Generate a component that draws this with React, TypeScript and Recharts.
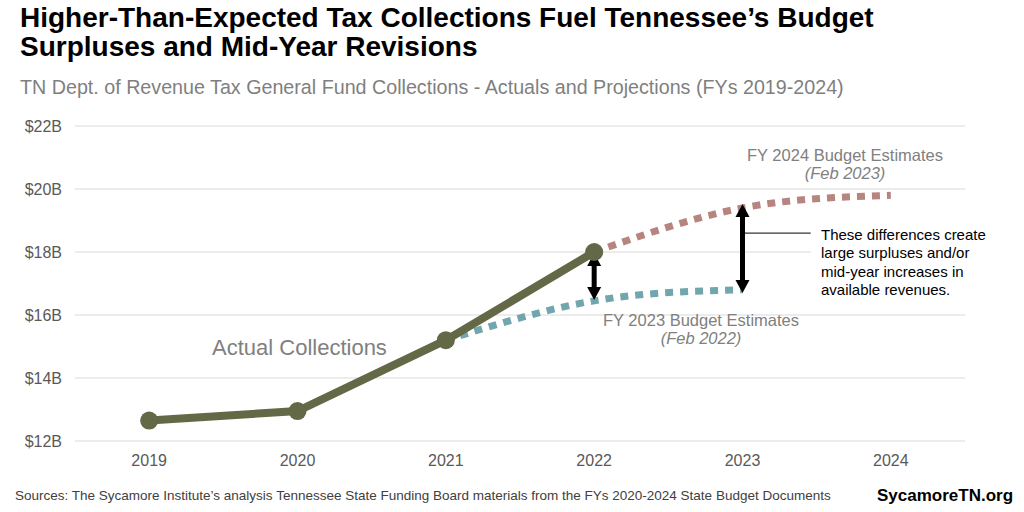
import { LineChart, Line, XAxis, YAxis, CartesianGrid, ReferenceLine } from 'recharts'

const years = [2019, 2020, 2021, 2022, 2023, 2024]
const actualCollections = [12.65, 12.95, 15.2, 18.0, null, null]
const fy2023Estimates = [null, null, 15.2, 16.45, 16.8, null]
const fy2024Estimates = [null, null, null, 18.0, 19.4, 19.8]
const yTicks = [12, 14, 16, 18, 20, 22]

const data = years.map((year, i) => ({
  year,
  actual: actualCollections[i],
  fy23: fy2023Estimates[i],
  fy24: fy2024Estimates[i],
}))

const FONT = '"Liberation Sans", Arial, sans-serif'

const Arrow = (p: any) => {
  const { x1, y1, y2 } = p
  const top = Math.min(y1, y2)
  const bot = Math.max(y1, y2)
  const hw = 7
  const hl = 13
  return (
    <g>
      <line x1={x1} y1={top + hl - 1} x2={x1} y2={bot - hl + 1} stroke="#000" strokeWidth={5} />
      <polygon points={`${x1},${top} ${x1 - hw},${top + hl} ${x1 + hw},${top + hl}`} fill="#000" />
      <polygon points={`${x1},${bot} ${x1 - hw},${bot - hl} ${x1 + hw},${bot - hl}`} fill="#000" />
    </g>
  )
}

const abs = (left: number, top: number, extra: any = {}) => ({ position: 'absolute' as const, left, top, whiteSpace: 'nowrap' as const, ...extra })

export default function App() {
  return (
    <div style={{ position: 'absolute', left: 0, top: 0, width: 1024, height: 512, background: '#fff', fontFamily: FONT, overflow: 'hidden' }}>
      <LineChart width={1024} height={512} data={data} margin={{ top: 126, right: 59, bottom: 41, left: 15 }}>
        <CartesianGrid vertical={false} stroke="#d9d9d9" />
        <XAxis
          dataKey="year"
          type="number"
          domain={[2018.5, 2024.5]}
          ticks={years}
          axisLine={false}
          tickLine={false}
          tickSize={0}
          tickMargin={14}
          height={30}
          tick={{ fill: '#595959', fontSize: 16, fontFamily: FONT }}
        />
        <YAxis
          domain={[12, 22]}
          ticks={yTicks}
          width={60}
          axisLine={false}
          tickLine={false}
          tickSize={0}
          tickMargin={13}
          tickFormatter={(v: number) => `$${v}B`}
          tick={{ fill: '#595959', fontSize: 16, fontFamily: FONT }}
        />
        <Line dataKey="fy23" type="natural" stroke="#72a6ad" strokeWidth={7} strokeDasharray="8 7" dot={false} isAnimationActive={false} />
        <Line dataKey="fy24" type="natural" stroke="#b78580" strokeWidth={7} strokeDasharray="8 7" dot={false} isAnimationActive={false} />
        <Line
          dataKey="actual"
          type="linear"
          stroke="#636846"
          strokeWidth={8}
          dot={{ r: 9, fill: '#636846', stroke: 'none' }}
          isAnimationActive={false}
        />
        <ReferenceLine segment={[{ x: 2023, y: 18.6 }, { x: 2023.46, y: 18.6 }]} stroke="#000" strokeWidth={1} />
        <ReferenceLine segment={[{ x: 2022, y: 17.97 }, { x: 2022, y: 16.48 }]} shape={Arrow} />
        <ReferenceLine segment={[{ x: 2023, y: 19.52 }, { x: 2023, y: 16.7 }]} shape={Arrow} />
      </LineChart>

      <div style={abs(20, 3, { fontSize: 28, fontWeight: 700, lineHeight: '29px', color: '#000' })}>
        Higher-Than-Expected Tax Collections Fuel Tennessee’s Budget
        <br />
        Surpluses and Mid-Year Revisions
      </div>
      <div style={abs(20, 75, { fontSize: 19.7, color: '#7f7f7f', lineHeight: '24px' })}>
        TN Dept. of Revenue Tax General Fund Collections - Actuals and Projections (FYs 2019-2024)
      </div>

      <div style={abs(212, 334, { fontSize: 22, color: '#808080', lineHeight: '28px' })}>Actual Collections</div>

      <div style={{ position: 'absolute', left: 745, top: 146, width: 200, textAlign: 'center', fontSize: 16.5, color: '#808080', lineHeight: '18px' }}>
        <div>FY 2024 Budget Estimates</div>
        <div style={{ fontStyle: 'italic' }}>(Feb 2023)</div>
      </div>
      <div style={{ position: 'absolute', left: 601, top: 311, width: 200, textAlign: 'center', fontSize: 16.5, color: '#808080', lineHeight: '18px' }}>
        <div>FY 2023 Budget Estimates</div>
        <div style={{ fontStyle: 'italic' }}>(Feb 2022)</div>
      </div>

      <div style={{ position: 'absolute', left: 811, top: 223, width: 205, paddingLeft: 10, background: '#fff', fontSize: 15, lineHeight: '18.4px', color: '#000', boxSizing: 'border-box', paddingTop: 3, paddingBottom: 3 }}>
        These differences create
        <br />
        large surpluses and/or
        <br />
        mid-year increases in
        <br />
        available revenues.
      </div>

      <div style={abs(15, 487, { fontSize: 13.5, color: '#404040', lineHeight: '18px' })}>
        Sources: The Sycamore Institute’s analysis Tennessee State Funding Board materials from the FYs 2020-2024 State Budget Documents
      </div>
      <div style={abs(877, 485, { fontSize: 17, fontWeight: 700, color: '#000', lineHeight: '22px' })}>SycamoreTN.org</div>
    </div>
  )
}
